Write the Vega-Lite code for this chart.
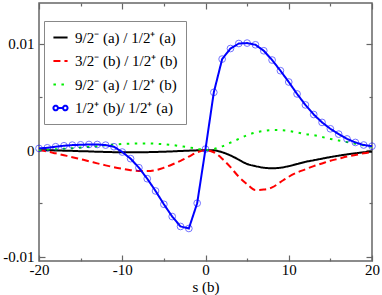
{
  "$schema": "https://vega.github.io/schema/vega-lite/v6.json",
  "width": 333,
  "height": 258,
  "autosize": {"type": "none"},
  "padding": {"left": 39, "top": 3, "right": 10, "bottom": 34},
  "config": {
    "font": "Liberation Serif",
    "view": {"stroke": "#666", "strokeWidth": 1.5},
    "axis": {"domain": false, "tickColor": "#666", "tickWidth": 1.2, "labelFont": "Liberation Serif", "titleFont": "Liberation Serif", "labelColor": "#000", "labelFontSize": 15, "titleFontSize": 15, "titleFontWeight": "normal", "titleColor": "#000", "grid": false},
    "legend": {"labelFont": "Liberation Serif"}
  },
  "data": {"values": [
    {"s": -20, "a": 0, "b": 0, "c": 0, "d": 0.00016},
    {"s": -19, "a": -0.00001, "b": -0.00012, "c": 0.00004, "d": 0.00022},
    {"s": -18, "a": -0.00003, "b": -0.0003, "c": 0.00008, "d": 0.00032},
    {"s": -17, "a": -0.00005, "b": -0.00048, "c": 0.00013, "d": 0.00041},
    {"s": -16, "a": -0.00007, "b": -0.00066, "c": 0.00018, "d": 0.00047},
    {"s": -15, "a": -0.0001, "b": -0.00085, "c": 0.00024, "d": 0.0005},
    {"s": -14, "a": -0.00012, "b": -0.00104, "c": 0.0003, "d": 0.00053},
    {"s": -13, "a": -0.00015, "b": -0.00124, "c": 0.00037, "d": 0.00053},
    {"s": -12, "a": -0.00017, "b": -0.00143, "c": 0.00045, "d": 0.00047},
    {"s": -11, "a": -0.00019, "b": -0.0016, "c": 0.00052, "d": 0.00032},
    {"s": -10, "a": -0.0002, "b": -0.00175, "c": 0.00058, "d": -0.00018},
    {"s": -9, "a": -0.0002, "b": -0.00188, "c": 0.00061, "d": -0.0008},
    {"s": -8, "a": -0.0002, "b": -0.00195, "c": 0.00063, "d": -0.00165},
    {"s": -7, "a": -0.00019, "b": -0.00196, "c": 0.00063, "d": -0.00268},
    {"s": -6, "a": -0.00017, "b": -0.00188, "c": 0.0006, "d": -0.00383},
    {"s": -5, "a": -0.00015, "b": -0.00165, "c": 0.00055, "d": -0.00508},
    {"s": -4, "a": -0.00012, "b": -0.00135, "c": 0.00048, "d": -0.00623},
    {"s": -3, "a": -0.00008, "b": -0.001, "c": 0.00037, "d": -0.00716},
    {"s": -2, "a": -0.00005, "b": -0.0006, "c": 0.00026, "d": -0.00735},
    {"s": -1, "a": -0.00002, "b": -0.0002, "c": 0.00013, "d": -0.00498},
    {"s": 0, "a": 0, "b": 0, "c": 0, "d": 0.0001},
    {"s": 1, "a": -0.00002, "b": -0.0002, "c": 0.0001, "d": 0.00542},
    {"s": 2, "a": -0.0002, "b": -0.0008, "c": 0.00035, "d": 0.00854},
    {"s": 3, "a": -0.0005, "b": -0.0016, "c": 0.0007, "d": 0.00953},
    {"s": 4, "a": -0.0009, "b": -0.0025, "c": 0.00105, "d": 0.0100},
    {"s": 5, "a": -0.0013, "b": -0.0032, "c": 0.0014, "d": 0.01004},
    {"s": 6, "a": -0.0015, "b": -0.00375, "c": 0.00165, "d": 0.00988},
    {"s": 7, "a": -0.00165, "b": -0.0037, "c": 0.0018, "d": 0.00932},
    {"s": 8, "a": -0.0017, "b": -0.0035, "c": 0.00188, "d": 0.00845},
    {"s": 9, "a": -0.00165, "b": -0.003, "c": 0.00187, "d": 0.00745},
    {"s": 10, "a": -0.0015, "b": -0.0025, "c": 0.0018, "d": 0.00639},
    {"s": 11, "a": -0.0013, "b": -0.0021, "c": 0.00165, "d": 0.00527},
    {"s": 12, "a": -0.0011, "b": -0.0018, "c": 0.0015, "d": 0.00424},
    {"s": 13, "a": -0.00095, "b": -0.0015, "c": 0.0014, "d": 0.00334},
    {"s": 14, "a": -0.0008, "b": -0.00125, "c": 0.00123, "d": 0.0026},
    {"s": 15, "a": -0.00065, "b": -0.001, "c": 0.00105, "d": 0.002},
    {"s": 16, "a": -0.00052, "b": -0.0008, "c": 0.0009, "d": 0.0015},
    {"s": 17, "a": -0.0004, "b": -0.0006, "c": 0.00075, "d": 0.00105},
    {"s": 18, "a": -0.0003, "b": -0.00045, "c": 0.0006, "d": 0.00072},
    {"s": 19, "a": -0.0002, "b": -0.0003, "c": 0.00045, "d": 0.00048},
    {"s": 20, "a": -0.00015, "b": -0.00018, "c": 0.0003, "d": 0.00037}
  ]},
  "transform": [{"fold": ["a", "b", "c", "d"], "as": ["k", "v"]}],
  "resolve": {"axis": {"x": "independent", "y": "independent"}},
  "layer": [
    {
      "transform": [{"filter": "datum.k != 'd'"}],
      "mark": {"type": "line", "interpolate": "monotone", "strokeCap": "butt"},
      "encoding": {
        "x": {"field": "s", "type": "quantitative", "scale": {"domain": [-20, 20], "nice": false},
          "axis": {"orient": "bottom", "title": "s (b)", "values": [-20, -15, -10, -5, 0, 5, 10, 15, 20],
            "labelExpr": "datum.value % 10 == 0 ? '' + datum.value : ''",
            "tickSize": {"condition": {"test": "datum.value % 10 == 0", "value": -6}, "value": -3},
            "labelPadding": 7, "titlePadding": 2, "labelFlush": false}},
        "y": {"field": "v", "type": "quantitative", "scale": {"domain": [-0.0104, 0.0138], "nice": false, "zero": false},
          "axis": {"orient": "left", "title": null, "values": [-0.01, -0.005, 0, 0.005, 0.01],
            "labelExpr": "datum.value == 0.01 ? '0.01' : datum.value == 0 ? '0' : datum.value == -0.01 ? '-0.01' : ''",
            "tickSize": {"condition": {"test": "datum.value == 0.01 || datum.value == 0 || datum.value == -0.01", "value": -6}, "value": -3},
            "labelPadding": 11}},
        "color": {"field": "k", "type": "nominal",
          "scale": {"domain": ["a", "b", "c", "d"], "range": ["#000000", "#ff0000", "#00ee00", "#0000ff"]},
          "legend": {"title": null, "orient": "none", "legendX": 5, "legendY": 18,
            "labelExpr": "datum.value == 'a' ? '9/2⁻ (a) / 1/2⁺ (a)' : datum.value == 'b' ? '3/2⁻ (b) / 1/2⁺ (b)' : datum.value == 'c' ? '9/2⁻ (a) / 1/2⁺ (b)' : '1/2⁺ (b)/ 1/2⁺ (a)'",
            "symbolType": "stroke", "symbolSize": 200, "symbolStrokeWidth": 2, "labelFontSize": 15, "labelFont": "Liberation Serif", "labelColor": "#000",
            "fillColor": "white", "strokeColor": "#888", "padding": 8, "rowPadding": 6.5, "labelOffset": 6,
            "encode": {"symbols": {"update": {"shape": [
              {"test": "datum.value === 'd'", "value": "M-1,0A0.32,0.32 0 1,1 -0.36,0A0.32,0.32 0 1,1 -1,0M-0.36,0L0.36,0M0.36,0A0.32,0.32 0 1,1 1,0A0.32,0.32 0 1,1 0.36,0"},
              {"value": "stroke"}]}}}}},
        "strokeDash": {"field": "k", "type": "nominal",
          "scale": {"domain": ["a", "b", "c", "d"], "range": [[1, 0], [7, 4], [2.5, 5.5], [1, 0]]},
          "legend": {"title": null, "orient": "none", "legendX": 5, "legendY": 18}},
        "strokeWidth": {"field": "k", "type": "nominal",
          "scale": {"domain": ["a", "b", "c", "d"], "range": [2, 2, 3, 2]},
          "legend": {"title": null, "orient": "none", "legendX": 5, "legendY": 18}}
      }
    },
    {
      "transform": [{"filter": "datum.k == 'd'"}],
      "mark": {"type": "line", "interpolate": "linear"},
      "encoding": {
        "x": {"field": "s", "type": "quantitative", "axis": null},
        "y": {"field": "v", "type": "quantitative", "axis": null},
        "color": {"field": "k", "type": "nominal"},
        "strokeDash": {"field": "k", "type": "nominal"},
        "strokeWidth": {"field": "k", "type": "nominal"}
      }
    },
    {
      "transform": [{"filter": "datum.k == 'd'"}],
      "mark": {"type": "point", "filled": false, "color": "#0000ff", "opacity": 0.55, "size": 45, "strokeWidth": 1},
      "encoding": {
        "x": {"field": "s", "type": "quantitative",
          "axis": {"orient": "top", "title": null, "labels": false, "values": [-20, -15, -10, -5, 0, 5, 10, 15, 20],
            "tickSize": {"condition": {"test": "datum.value % 10 == 0", "value": -6}, "value": -3}}},
        "y": {"field": "v", "type": "quantitative",
          "axis": {"orient": "right", "title": null, "labels": false, "values": [-0.01, -0.005, 0, 0.005, 0.01],
            "tickSize": {"condition": {"test": "datum.value == 0.01 || datum.value == 0 || datum.value == -0.01", "value": -6}, "value": -3}}}
      }
    }
  ]
}
